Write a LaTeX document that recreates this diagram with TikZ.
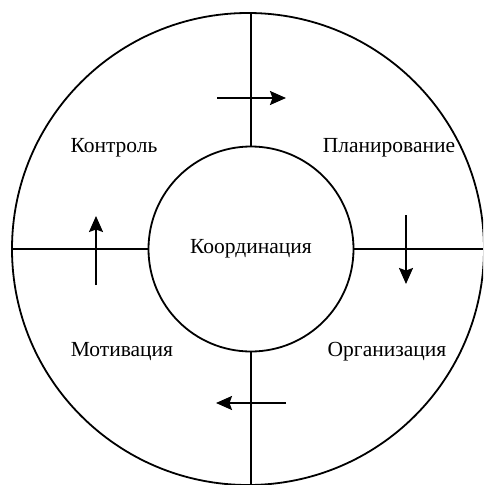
\documentclass[tikz,border=0pt]{standalone}
\usepackage{fontspec}
\setmainfont{Liberation Serif}
\usetikzlibrary{arrows.meta}
\begin{document}
\begin{tikzpicture}[x=1pt,y=-1pt,line width=1.8pt,
  lbl/.style={font=\fontsize{21.5}{26}\selectfont},
  strelka/.style={-{Stealth[length=16pt,width=14pt,inset=2.5pt]}}]
\useasboundingbox (0,0) rectangle (483,485);
% outer ring (cut by the page edge)
\begin{scope}
\clip (0,0) rectangle (483,485);
\draw (248,249) circle (236pt);
\end{scope}
% centre
\node[circle,draw,minimum size=205pt,inner sep=0pt,lbl] (koord) at (251,249) {Координация};
% spokes
\coordinate (verh) at (251,13);
\coordinate (niz) at (251,485);
\coordinate (levo) at (12,249);
\coordinate (pravo) at (483,249);
\draw (koord.north) -- (verh);
\draw (koord.south) -- (niz);
\draw (koord.west) -- (levo);
\draw (koord.east) -- (pravo);
% functions
\node[lbl] (kontrol) at (114,148) {Контроль};
\node[lbl] (plan) at (389,148) {Планирование};
\node[lbl] (motiv) at (122,352) {Мотивация};
\node[lbl] (org) at (387,352) {Организация};
% cycle arrows
\coordinate (s1) at (217,98);  \coordinate (e1) at (286,98);
\coordinate (s2) at (406,215); \coordinate (e2) at (406,284);
\coordinate (s3) at (286,403); \coordinate (e3) at (216,403);
\coordinate (s4) at (96,285);  \coordinate (e4) at (96,216);
\foreach \i in {1,2,3,4} \draw[strelka] (s\i) -- (e\i);
\end{tikzpicture}
\end{document}
